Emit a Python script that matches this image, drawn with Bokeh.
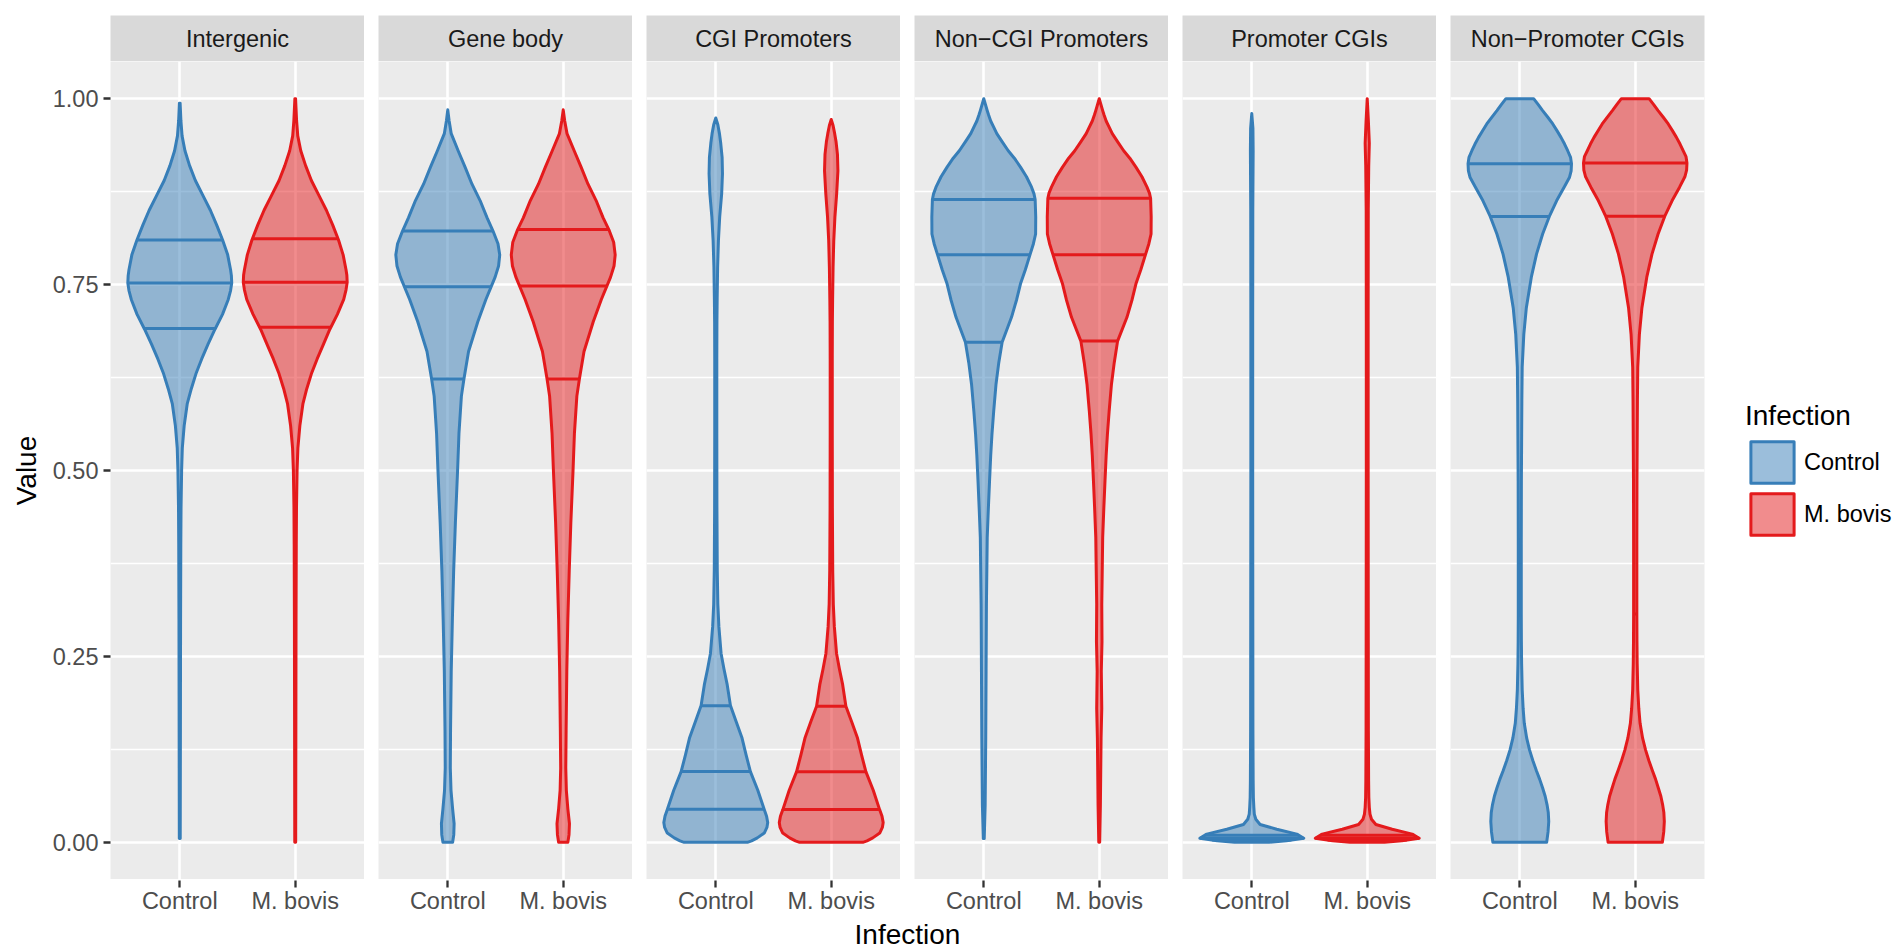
import numpy as np
from bokeh.plotting import figure
from bokeh.layouts import row, column
from bokeh.models import Range1d, FixedTicker, NumeralTickFormatter, Legend, LegendItem
from bokeh.core.properties import value
from bokeh.core.validation import silence
from bokeh.core.validation.warnings import MISSING_RENDERERS
from bokeh.embed import file_html
from bokeh.resources import INLINE

# ---------------------------------------------------------------- data
REGIONS = ["Intergenic", "Gene body", "CGI Promoters",
           "Non\u2212CGI Promoters", "Promoter CGIs", "Non\u2212Promoter CGIs"]
GROUPS = ["Control", "M. bovis"]
GROUP_COLORS = ["#377EB8", "#E41A1C"]

Y_BREAKS = [0.0, 0.25, 0.5, 0.75, 1.0]
Y_MINOR = [0.125, 0.375, 0.625, 0.875]

# violin outlines: methylation value (y) and density half-width (w, widest = 0.45)
# plus the 25/50/75 % quantiles (q)
intergenic_control_y = [0.005, 0.10, 0.20, 0.30, 0.40, 0.45, 0.50, 0.53, 0.56, 0.59, 0.61, 0.63, 0.65, 0.67, 0.69,
                        0.71, 0.73, 0.742, 0.752, 0.762, 0.77, 0.79, 0.81, 0.83, 0.85, 0.87, 0.89, 0.91, 0.93, 0.95,
                        0.97, 0.994]
intergenic_control_w = [0.004, 0.005, 0.006, 0.007, 0.009, 0.011, 0.016, 0.022, 0.038, 0.065, 0.10, 0.14, 0.19, 0.245,
                        0.305, 0.37, 0.42, 0.44, 0.45, 0.447, 0.44, 0.415, 0.371, 0.32, 0.265, 0.20, 0.135, 0.085,
                        0.045, 0.02, 0.01, 0.003]
intergenic_control_q = [0.691, 0.752, 0.810]

intergenic_mbovis_y = [0.0, 0.10, 0.20, 0.30, 0.40, 0.45, 0.50, 0.53, 0.56, 0.59, 0.61, 0.63, 0.65, 0.67, 0.69,
                       0.71, 0.73, 0.743, 0.753, 0.763, 0.77, 0.79, 0.81, 0.83, 0.85, 0.87, 0.89, 0.91, 0.93, 0.95,
                       0.97, 1.0]
intergenic_mbovis_w = [0.004, 0.005, 0.006, 0.007, 0.009, 0.011, 0.016, 0.023, 0.040, 0.067, 0.10, 0.14, 0.19, 0.245,
                       0.30, 0.365, 0.42, 0.44, 0.45, 0.447, 0.44, 0.415, 0.375, 0.325, 0.27, 0.205, 0.14, 0.09,
                       0.048, 0.022, 0.012, 0.003]
intergenic_mbovis_q = [0.6926, 0.753, 0.8116]

gene_body_control_y = [0.0, 0.01, 0.025, 0.045, 0.07, 0.10, 0.15, 0.23, 0.30, 0.365, 0.43, 0.50, 0.55, 0.60, 0.623,
                       0.66, 0.70, 0.73, 0.76, 0.775, 0.79, 0.805, 0.822, 0.84, 0.863, 0.885, 0.908, 0.93, 0.953,
                       0.97, 0.985]
gene_body_control_w = [0.042, 0.052, 0.055, 0.042, 0.028, 0.022, 0.024, 0.030, 0.040, 0.051, 0.066, 0.085, 0.097,
                       0.118, 0.14, 0.18, 0.26, 0.33, 0.41, 0.44, 0.45, 0.435, 0.392, 0.34, 0.28, 0.21, 0.15, 0.09,
                       0.03, 0.012, 0.0]
gene_body_control_q = [0.623, 0.747, 0.822]

gene_body_mbovis_y = [0.0, 0.01, 0.025, 0.045, 0.07, 0.10, 0.15, 0.23, 0.30, 0.365, 0.43, 0.50, 0.55, 0.60, 0.623,
                      0.66, 0.70, 0.73, 0.76, 0.775, 0.79, 0.807, 0.824, 0.84, 0.863, 0.885, 0.908, 0.93, 0.953,
                      0.97, 0.985]
gene_body_mbovis_w = [0.040, 0.050, 0.054, 0.040, 0.027, 0.022, 0.025, 0.031, 0.040, 0.052, 0.066, 0.085, 0.097,
                      0.118, 0.14, 0.18, 0.26, 0.33, 0.41, 0.44, 0.45, 0.437, 0.395, 0.345, 0.285, 0.215, 0.155,
                      0.095, 0.033, 0.013, 0.0]
gene_body_mbovis_q = [0.623, 0.748, 0.824]

cgi_prom_control_y = [0.0, 0.002, 0.006, 0.0125, 0.02, 0.0265, 0.035, 0.0445, 0.07, 0.095, 0.118, 0.141, 0.162,
                      0.184, 0.212, 0.233, 0.254, 0.275, 0.29, 0.32, 0.365, 0.45, 0.55, 0.65, 0.70, 0.73, 0.773,
                      0.809, 0.841, 0.872, 0.899, 0.921, 0.94, 0.953, 0.965, 0.974]
cgi_prom_control_w = [0.274, 0.31, 0.36, 0.42, 0.443, 0.45, 0.44, 0.419, 0.364, 0.30, 0.262, 0.226, 0.177, 0.127,
                      0.099, 0.071, 0.046, 0.035, 0.027, 0.018, 0.013, 0.010, 0.009, 0.009, 0.010, 0.012, 0.016,
                      0.023, 0.034, 0.051, 0.058, 0.055, 0.043, 0.032, 0.018, 0.0]
cgi_prom_control_q = [0.0445, 0.0952, 0.1836]

cgi_prom_mbovis_y = [0.0, 0.002, 0.006, 0.0125, 0.02, 0.0265, 0.035, 0.044, 0.07, 0.095, 0.118, 0.141, 0.162,
                     0.183, 0.212, 0.233, 0.254, 0.275, 0.29, 0.32, 0.365, 0.45, 0.55, 0.65, 0.70, 0.73, 0.773,
                     0.809, 0.841, 0.872, 0.903, 0.925, 0.942, 0.953, 0.964, 0.972]
cgi_prom_mbovis_w = [0.274, 0.31, 0.36, 0.42, 0.443, 0.45, 0.44, 0.419, 0.364, 0.30, 0.262, 0.226, 0.177, 0.127,
                     0.099, 0.071, 0.046, 0.035, 0.027, 0.018, 0.013, 0.010, 0.009, 0.009, 0.010, 0.012, 0.016,
                     0.022, 0.032, 0.047, 0.058, 0.054, 0.042, 0.030, 0.016, 0.0]
cgi_prom_mbovis_q = [0.044, 0.095, 0.183]

noncgi_prom_control_y = [0.005, 0.05, 0.14, 0.23, 0.32, 0.41, 0.45, 0.486, 0.52, 0.549, 0.58, 0.616, 0.645, 0.6725,
                         0.706, 0.73, 0.751, 0.77, 0.79, 0.805, 0.818, 0.841, 0.8645, 0.872, 0.881, 0.895, 0.908,
                         0.92, 0.93, 0.942, 0.953, 0.962, 0.97, 0.978, 0.984, 0.992, 1.0]
noncgi_prom_control_w = [0.004, 0.012, 0.017, 0.020, 0.023, 0.030, 0.040, 0.050, 0.060, 0.071, 0.086, 0.106, 0.13,
                         0.159, 0.24, 0.285, 0.318, 0.36, 0.40, 0.43, 0.449, 0.45, 0.445, 0.435, 0.414, 0.37, 0.318,
                         0.265, 0.212, 0.16, 0.113, 0.085, 0.06, 0.042, 0.03, 0.015, 0.0]
noncgi_prom_control_q = [0.6725, 0.790, 0.8645]

noncgi_prom_mbovis_y = [0.0, 0.05, 0.14, 0.18, 0.23, 0.27, 0.32, 0.41, 0.45, 0.486, 0.52, 0.549, 0.58, 0.616, 0.645,
                        0.674, 0.706, 0.73, 0.751, 0.77, 0.79, 0.805, 0.818, 0.841, 0.866, 0.873, 0.881, 0.895, 0.908,
                        0.92, 0.93, 0.942, 0.953, 0.962, 0.97, 0.978, 0.984, 0.992, 1.0]
noncgi_prom_mbovis_w = [0.004, 0.010, 0.016, 0.022, 0.018, 0.024, 0.022, 0.030, 0.040, 0.050, 0.060, 0.071, 0.086,
                        0.106, 0.13, 0.159, 0.24, 0.285, 0.318, 0.36, 0.40, 0.43, 0.449, 0.45, 0.445, 0.435, 0.414,
                        0.37, 0.318, 0.265, 0.212, 0.16, 0.113, 0.085, 0.06, 0.042, 0.03, 0.015, 0.0]
noncgi_prom_mbovis_q = [0.674, 0.790, 0.866]

prom_cgi_control_y = [0.0, 0.002, 0.0055, 0.011, 0.0176, 0.024, 0.031, 0.038, 0.047, 0.06, 0.083, 0.15, 0.3, 0.5,
                      0.7, 0.85, 0.93, 0.96, 0.98]
prom_cgi_control_w = [0.15, 0.30, 0.45, 0.39, 0.216, 0.072, 0.035, 0.022, 0.018, 0.014, 0.012, 0.010, 0.009, 0.008,
                      0.008, 0.009, 0.012, 0.010, 0.0]
prom_cgi_control_q = [0.003, 0.0055, 0.0095]

prom_cgi_mbovis_y = [0.0, 0.002, 0.0055, 0.011, 0.0176, 0.024, 0.031, 0.038, 0.047, 0.06, 0.083, 0.15, 0.3, 0.5,
                     0.7, 0.85, 0.91, 0.94, 0.97, 1.0]
prom_cgi_mbovis_w = [0.15, 0.30, 0.45, 0.39, 0.216, 0.075, 0.037, 0.024, 0.018, 0.014, 0.012, 0.010, 0.009, 0.008,
                     0.008, 0.009, 0.013, 0.018, 0.010, 0.0]
prom_cgi_mbovis_q = [0.003, 0.0055, 0.0095]

nonprom_cgi_control_y = [0.0, 0.014, 0.028, 0.04, 0.05, 0.062, 0.073, 0.085, 0.096, 0.11, 0.124, 0.14, 0.16, 0.18,
                         0.205, 0.24, 0.27, 0.305, 0.40, 0.486, 0.594, 0.639, 0.683, 0.719, 0.76, 0.791, 0.818,
                         0.8416, 0.863, 0.881, 0.894, 0.903, 0.9125, 0.921, 0.930, 0.939, 0.948, 0.957, 0.966,
                         0.975, 0.984, 0.992, 1.0]
nonprom_cgi_control_w = [0.233, 0.245, 0.251, 0.247, 0.237, 0.22, 0.198, 0.172, 0.145, 0.113, 0.085, 0.06, 0.039,
                         0.029, 0.021, 0.016, 0.014, 0.013, 0.013, 0.014, 0.018, 0.021, 0.035, 0.057, 0.10, 0.145,
                         0.198, 0.256, 0.32, 0.384, 0.43, 0.445, 0.448, 0.44, 0.415, 0.388, 0.357, 0.322, 0.286,
                         0.243, 0.198, 0.16, 0.12]
nonprom_cgi_control_q = [0.305, 0.8416, 0.9125]

nonprom_cgi_mbovis_y = [0.0, 0.014, 0.028, 0.04, 0.05, 0.062, 0.073, 0.085, 0.096, 0.11, 0.124, 0.14, 0.16, 0.18,
                        0.205, 0.24, 0.27, 0.307, 0.40, 0.486, 0.594, 0.639, 0.683, 0.719, 0.76, 0.791, 0.818,
                        0.842, 0.863, 0.881, 0.895, 0.904, 0.9134, 0.922, 0.930, 0.939, 0.948, 0.957, 0.966,
                        0.975, 0.984, 0.992, 1.0]
nonprom_cgi_mbovis_w = [0.235, 0.247, 0.252, 0.248, 0.238, 0.222, 0.20, 0.176, 0.15, 0.118, 0.09, 0.064, 0.042,
                        0.031, 0.022, 0.017, 0.015, 0.014, 0.014, 0.015, 0.019, 0.022, 0.036, 0.058, 0.10, 0.145,
                        0.198, 0.256, 0.32, 0.384, 0.43, 0.445, 0.448, 0.44, 0.415, 0.388, 0.357, 0.322, 0.286,
                        0.243, 0.198, 0.16, 0.12]
nonprom_cgi_mbovis_q = [0.307, 0.842, 0.9134]

PROFILES = {
    (REGIONS[0], "Control"): (intergenic_control_y, intergenic_control_w, intergenic_control_q),
    (REGIONS[0], "M. bovis"): (intergenic_mbovis_y, intergenic_mbovis_w, intergenic_mbovis_q),
    (REGIONS[1], "Control"): (gene_body_control_y, gene_body_control_w, gene_body_control_q),
    (REGIONS[1], "M. bovis"): (gene_body_mbovis_y, gene_body_mbovis_w, gene_body_mbovis_q),
    (REGIONS[2], "Control"): (cgi_prom_control_y, cgi_prom_control_w, cgi_prom_control_q),
    (REGIONS[2], "M. bovis"): (cgi_prom_mbovis_y, cgi_prom_mbovis_w, cgi_prom_mbovis_q),
    (REGIONS[3], "Control"): (noncgi_prom_control_y, noncgi_prom_control_w, noncgi_prom_control_q),
    (REGIONS[3], "M. bovis"): (noncgi_prom_mbovis_y, noncgi_prom_mbovis_w, noncgi_prom_mbovis_q),
    (REGIONS[4], "Control"): (prom_cgi_control_y, prom_cgi_control_w, prom_cgi_control_q),
    (REGIONS[4], "M. bovis"): (prom_cgi_mbovis_y, prom_cgi_mbovis_w, prom_cgi_mbovis_q),
    (REGIONS[5], "Control"): (nonprom_cgi_control_y, nonprom_cgi_control_w, nonprom_cgi_control_q),
    (REGIONS[5], "M. bovis"): (nonprom_cgi_mbovis_y, nonprom_cgi_mbovis_w, nonprom_cgi_mbovis_q),
}

# ---------------------------------------------------------------- layout / style
silence(MISSING_RENDERERS, True)

FONT = "Liberation Sans"
PANEL_W, PANEL_H = 254, 818
STRIP_H, TOP = 46, 15
GAP, LEFT, RIGHT = 14, 110, 191
SMALL, LARGE = "23.5px", "28px"
LW = 3.0          # violin outlines and quantile lines
TICK_W = 2.3
GRID_W, MINOR_W = 2.6, 1.3
X_LO, X_HI = 0.4, 2.6          # discrete x scale of one facet (two groups at 1 and 2)
FACET_SPAN = X_HI - X_LO
FACET_STEP = FACET_SPAN + GAP * FACET_SPAN / PANEL_W   # one facet plus the gap, in x units


def violin_outline(cx, ys, ws):
    xs = [cx - w for w in ws] + [cx + w for w in reversed(ws)]
    yy = list(ys) + list(reversed(ys))
    return xs, yy


def style_axis(ax):
    ax.axis_line_color = None
    ax.major_tick_line_color = "#333333"
    ax.major_tick_line_width = TICK_W
    ax.major_tick_out = 7
    ax.major_tick_in = 0
    ax.minor_tick_line_color = None
    ax.minor_tick_out = 0
    ax.major_label_text_font = FONT
    ax.major_label_text_font_size = SMALL
    ax.major_label_text_color = "#4D4D4D"
    ax.axis_label_text_font = FONT
    ax.axis_label_text_font_size = LARGE
    ax.axis_label_text_font_style = "normal"
    ax.axis_label_text_color = "black"


columns = []
for i, region in enumerate(REGIONS):
    left = LEFT if i == 0 else GAP
    right = RIGHT if i == len(REGIONS) - 1 else 0

    # facet strip
    strip = figure(frame_width=PANEL_W, frame_height=STRIP_H, x_range=Range1d(0, 1), y_range=Range1d(0, 1),
                   x_axis_type=None, y_axis_type=None, toolbar_location=None, output_backend="svg",
                   min_border=0, min_border_left=left, min_border_right=right, min_border_top=TOP,
                   background_fill_color="#D9D9D9", border_fill_color="white", outline_line_color=None)
    strip.text(x=[0.5], y=[0.5], text=[region], text_align="center", text_baseline="middle",
               text_font=value(FONT), text_font_size=SMALL, text_color="#1A1A1A")

    # facet panel
    p = figure(frame_width=PANEL_W, frame_height=PANEL_H, x_range=Range1d(X_LO, X_HI),
               y_range=Range1d(-0.05, 1.05), toolbar_location=None, output_backend="svg",
               x_axis_location=None, y_axis_location="left" if i == 0 else None,
               min_border=0, min_border_left=left, min_border_right=right,
               background_fill_color="#EBEBEB", border_fill_color="white", outline_line_color=None)

    yticker = FixedTicker(ticks=Y_BREAKS, minor_ticks=Y_MINOR)
    p.ygrid.ticker = yticker
    p.ygrid.grid_line_color = "white"
    p.ygrid.grid_line_width = GRID_W
    p.ygrid.minor_grid_line_color = "white"
    p.ygrid.minor_grid_line_width = MINOR_W
    p.xgrid.ticker = FixedTicker(ticks=[1, 2], minor_ticks=[])
    p.xgrid.grid_line_color = "white"
    p.xgrid.grid_line_width = GRID_W

    if i == 0:
        yaxis = p.yaxis[0]
        style_axis(yaxis)
        yaxis.ticker = yticker
        yaxis.formatter = NumeralTickFormatter(format="0.00")
        yaxis.axis_label = "Value"
        yaxis.axis_label_standoff = 8
        yaxis.major_label_standoff = 5

    renderers = []
    for g, grp in enumerate(GROUPS):
        ys, ws, qs = PROFILES[(region, grp)]
        cx = g + 1
        xs, yy = violin_outline(cx, ys, ws)
        r = p.patch(x=xs, y=yy, fill_color=GROUP_COLORS[g], fill_alpha=0.5,
                    line_color=GROUP_COLORS[g], line_width=LW, line_join="round")
        qw = np.interp(qs, ys, ws)
        p.segment(x0=list(cx - qw), x1=list(cx + qw), y0=qs, y1=qs,
                  line_color=GROUP_COLORS[g], line_width=LW)
        renderers.append(r)

    if i == len(REGIONS) - 1:
        legend = Legend(items=[LegendItem(label=grp, renderers=[renderers[g]]) for g, grp in enumerate(GROUPS)],
                        title="Infection", location="center_left", orientation="vertical",
                        title_text_font=FONT, title_text_font_size=LARGE, title_text_color="black",
                        title_text_font_style="normal", title_standoff=4,
                        label_text_font=FONT, label_text_font_size=SMALL, label_text_color="black",
                        glyph_width=54, glyph_height=52, spacing=0, label_standoff=5,
                        padding=0, margin=41, border_line_color=None, background_fill_color="white")
        p.add_layout(legend, "right")

    columns.append(column(strip, p, spacing=0))

# shared x axis: the six facets side by side on one continuous scale
n_facets = len(REGIONS)
axis_ticks = [k * FACET_STEP + (g + 1) for k in range(n_facets) for g in range(len(GROUPS))]
axis_labels = {t: GROUPS[j % len(GROUPS)] for j, t in enumerate(axis_ticks)}

bottom = figure(frame_width=n_facets * PANEL_W + (n_facets - 1) * GAP, frame_height=1,
                x_range=Range1d(X_LO, X_LO + n_facets * FACET_STEP - (FACET_STEP - FACET_SPAN)),
                y_range=Range1d(0, 1), y_axis_location=None, toolbar_location=None, output_backend="svg",
                min_border=0, min_border_left=LEFT, min_border_right=RIGHT,
                background_fill_color="white", border_fill_color="white", outline_line_color=None)
bottom.grid.visible = False
xaxis = bottom.xaxis[0]
style_axis(xaxis)
xaxis.ticker = FixedTicker(ticks=axis_ticks, minor_ticks=[])
xaxis.major_label_overrides = axis_labels
xaxis.major_label_standoff = 0
xaxis.axis_label = "Infection"
xaxis.axis_label_standoff = 2

layout = column(row(*columns, spacing=0), bottom, spacing=0)

open("out.html", "w").write(file_html(layout, INLINE))
